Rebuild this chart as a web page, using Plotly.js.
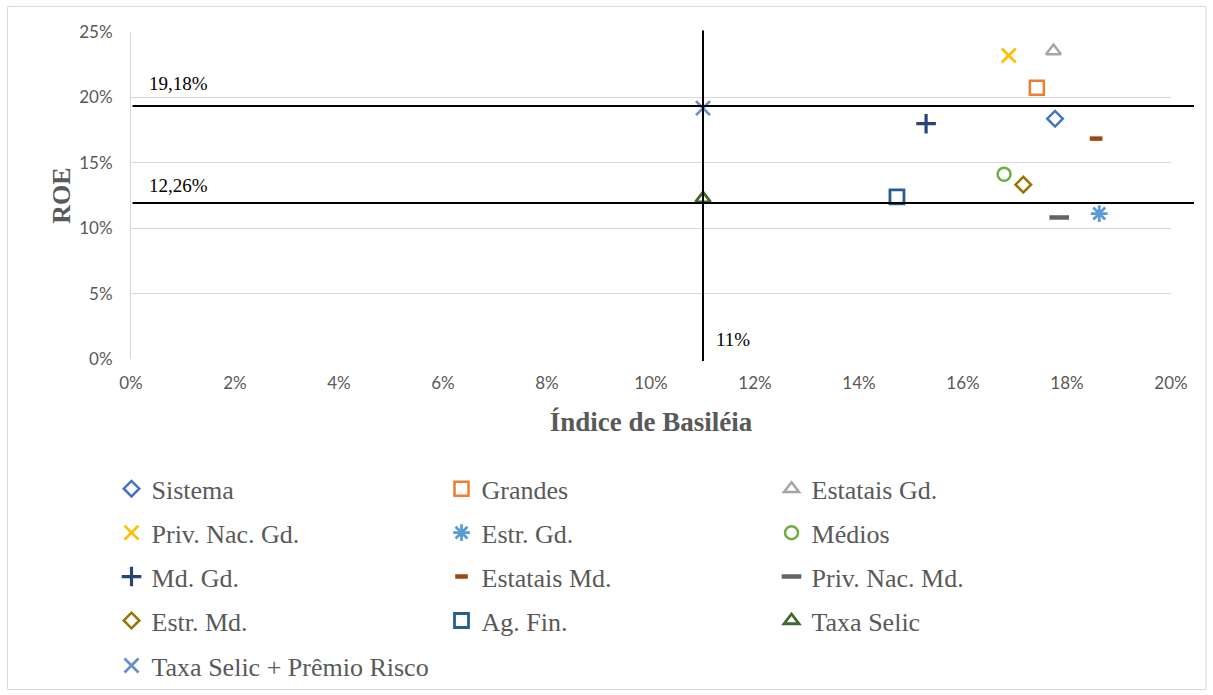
<!DOCTYPE html>
<html>
<head>
<meta charset="utf-8">
<script src="https://cdn.plot.ly/plotly-3.0.1.min.js"></script>
<style>
html,body{margin:0;padding:0;background:#fff;}
#chart{width:1213px;height:695px;}
</style>
</head>
<body>
<div id="chart"></div>
<script>
// Data (fractions)
const seriesNames = ["Sistema","Grandes","Estatais Gd.","Priv. Nac. Gd.","Estr. Gd.","Médios","Md. Gd.","Estatais Md.","Priv. Nac. Md.","Estr. Md.","Ag. Fin.","Taxa Selic","Taxa Selic + Prêmio Risco"];
const basileia = [0.1777, 0.1742, 0.1774, 0.1688, 0.1862, 0.1679, 0.1529, 0.1856, 0.1785, 0.1716, 0.1473, 0.1100, 0.1100];
const roe      = [0.1837, 0.2074, 0.2355, 0.2320, 0.1112, 0.1412, 0.1799, 0.1685, 0.1082, 0.1333, 0.1239, 0.1226, 0.1918];
const refLineLabels = ["19,18%","12,26%","11%"];
const refLineY = [0.1935, 0.1193];
const refLineX = 0.11;

const colors = ["#4472C4","#ED7D31","#A5A5A5","#FFC000","#5B9BD5","#70AD47","#264478","#9E480E","#636363","#997300","#255E91","#43682B","#698ED0"];
const symbols = ["diamond-open","square-open","triangle-up-open","x-thin-open","asterisk-open","circle-open","cross-thin-open","line-ew-open","line-ew-open","diamond-open","square-open","triangle-up-open","x-thin-open"];
const sizes = [12,14,13,14,14,13,14,9,14,12,14,13,14];
const widths = [2.5,2.5,2.5,2.8,2.8,2.5,3.2,4.5,4.5,2.5,2.8,2.8,2.8];
const legendIds = ["legend","legend","legend","legend2","legend2","legend2","legend3","legend3","legend3","legend4","legend4","legend4","legend5"];

const traces = seriesNames.map((n,i)=>({
  type:"scatter", mode:"markers", name:n,
  x:[basileia[i]], y:[roe[i]],
  legend: legendIds[i],
  marker:{symbol:symbols[i], size:sizes[i], color:colors[i], line:{color:colors[i], width:widths[i]}},
  hoverinfo:"x+y+name"
}));

// pixel helpers for paper positions
const L=130.5, R=1171, T=31.5, B=359;
const px=(p)=>(p-L)/(R-L);
const py=(p)=>(B-p)/(B-T);

const serif = "Liberation Serif";
const rowY = [489,533,577,621,666];
function leg(i){
  return {orientation:"h", x:px(111), xanchor:"left", y:py(rowY[i]), yanchor:"middle",
    entrywidth:285, entrywidthmode:"pixels", itemwidth:30,
    font:{family:serif, size:26, color:"#595959"}, bgcolor:"rgba(0,0,0,0)", traceorder:"normal"};
}

const layout = {
  width:1213, height:695,
  margin:{l:L, r:1213-R, t:T, b:695-B, autoexpand:false},
  paper_bgcolor:"#fff", plot_bgcolor:"#fff",
  font:{family:serif},
  showlegend:true,
  legend:leg(0), legend2:leg(1), legend3:leg(2), legend4:leg(3), legend5:leg(4),
  xaxis:{range:[0,0.2], dtick:0.02, tickformat:".0%", showgrid:false, zeroline:false,
    showline:false, ticks:"", ticklabelstandoff:12,
    tickfont:{family:"Lato, Carlito, Calibri, sans-serif", size:17, color:"#595959"},
    title:{text:"Índice de Basiléia", font:{family:serif, size:27, color:"#595959", weight:"bold"}, standoff:20},
    automargin:false, fixedrange:true},
  yaxis:{range:[0,0.25], dtick:0.05, tickformat:".0%", showgrid:true, gridcolor:"#D9D9D9", gridwidth:1,
    zeroline:false, showline:true, linecolor:"#D9D9D9", ticks:"", ticklabelstandoff:14,
    tickfont:{family:"Lato, Carlito, Calibri, sans-serif", size:17, color:"#595959"},
    title:{text:"ROE", font:{family:serif, size:26, color:"#595959", weight:"bold"}, standoff:1},
    automargin:false, fixedrange:true},
  shapes:[
    {type:"line", xref:"paper", yref:"y", x0:px(132), x1:px(1194), y0:refLineY[0], y1:refLineY[0], line:{color:"#000", width:2}},
    {type:"line", xref:"paper", yref:"y", x0:px(132), x1:px(1194), y0:refLineY[1], y1:refLineY[1], line:{color:"#000", width:2}},
    {type:"line", xref:"x", yref:"paper", x0:refLineX, x1:refLineX, y0:py(361), y1:py(30), line:{color:"#000", width:2}},
    {type:"rect", xref:"paper", yref:"paper", x0:px(7), x1:px(1206), y0:py(6), y1:py(690), line:{color:"#D9D9D9", width:1}, fillcolor:"rgba(0,0,0,0)", layer:"below"}
  ],
  annotations:[
    {xref:"paper", yref:"y", x:px(147), y:refLineY[0], yanchor:"bottom", xanchor:"left", yshift:10, text:refLineLabels[0], showarrow:false, font:{family:serif, size:19, color:"#000"}},
    {xref:"paper", yref:"y", x:px(147), y:refLineY[1], yanchor:"bottom", xanchor:"left", yshift:5, text:refLineLabels[1], showarrow:false, font:{family:serif, size:19, color:"#000"}},
    {xref:"x", yref:"paper", x:refLineX, y:py(339), xanchor:"left", yanchor:"middle", xshift:11, text:refLineLabels[2], showarrow:false, font:{family:serif, size:19, color:"#000"}}
  ]
};

Plotly.newPlot("chart", traces, layout, {displayModeBar:false});
</script>
</body>
</html>
